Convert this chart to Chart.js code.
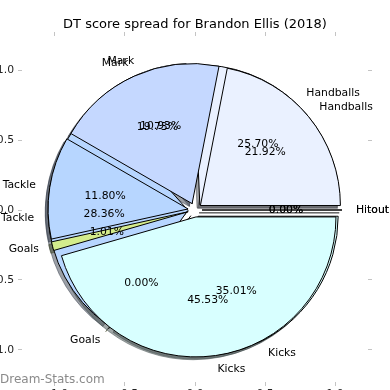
<!DOCTYPE html>
<html><head><meta charset="utf-8">
<script src="https://cdn.jsdelivr.net/npm/chart.js@4/dist/chart.umd.min.js"></script>
<style>
html,body{margin:0;padding:0;background:#fff;overflow:hidden;width:390px;height:390px;}
#wrap{position:absolute;left:-20px;top:0;width:430px;height:410px;}
</style></head><body>
<div id="wrap"><canvas id="c"></canvas></div>
<script>
const chartTitle = 'DT score spread for Brandon Ellis (2018)';
const watermark = 'Dream-Stats.com';
// categories in drawing order (clockwise from the right-hand side)
const categories = ['Hitout', 'Kicks', 'Goals', 'Tackle', 'Mark', 'Handballs'];
const spreadA = [0.00, 45.53, 1.01, 11.80, 19.73, 21.92];
const spreadB = [0.00, 35.01, 0.00, 28.36, 10.93, 25.70];
const axisTicks = [-1.0, -0.5, 0.0, 0.5, 1.0];
const sliceColours = ['#f2f2f2', '#d8ffff', '#d4ec8c', '#b7d6ff', '#c5d8ff', '#eaf1ff'];

const EXPLODE = 0.05, LABEL_DIST = 1.1, PCT_DIST = 0.6, SHADOW = 0.02;
const X_LIM = 1.2357, Y_TOP = 1.2429, Y_BOT = -1.2286;
const LABEL_FONT = '10.8px "DejaVu Sans"';

function geom(chart) {
  const xs = chart.scales.x, ys = chart.scales.y;
  const cx = xs.getPixelForValue(0), cy = ys.getPixelForValue(0);
  return {cx, cy, R: xs.getPixelForValue(1) - cx};
}
function shade(hex) {
  const n = parseInt(hex.slice(1), 16);
  const r = (n >> 16) & 255, g = (n >> 8) & 255, b = n & 255;
  return `rgba(${Math.round(r * .3)},${Math.round(g * .3)},${Math.round(b * .3)},0.5)`;
}

const piePlugin = {
  id: 'mplpie',
  afterDatasetsUpdate(chart) {
    const {cx, cy, R} = geom(chart);
    chart.data.datasets.forEach((ds, i) => {
      chart.getDatasetMeta(i).data.forEach(arc => {
        const mid = (arc.startAngle + arc.endAngle) / 2;
        arc.x = cx + EXPLODE * R * Math.cos(mid);
        arc.y = cy + EXPLODE * R * Math.sin(mid);
        arc.innerRadius = 0;
        arc.outerRadius = R;
      });
    });
  },
  beforeDatasetsDraw(chart) {
    const ctx = chart.ctx;
    const {R} = geom(chart);
    const ox = -SHADOW * R, oy = SHADOW * R;
    ctx.save();
    for (let i = chart.data.datasets.length - 1; i >= 0; i--) {
      chart.getDatasetMeta(i).data.forEach((arc, j) => {
        const col = shade(sliceColours[j]);
        ctx.beginPath();
        ctx.moveTo(arc.x + ox, arc.y + oy);
        ctx.arc(arc.x + ox, arc.y + oy, arc.outerRadius, arc.startAngle, arc.endAngle);
        ctx.closePath();
        ctx.fillStyle = col; ctx.strokeStyle = col; ctx.lineWidth = 1;
        ctx.fill(); ctx.stroke();
      });
    }
    ctx.restore();
  },
  afterDatasetDraw(chart, args) {
    const ctx = chart.ctx;
    args.meta.data.forEach(arc => {
      if (arc.endAngle - arc.startAngle === 0) {
        ctx.save();
        ctx.strokeStyle = '#000'; ctx.lineWidth = 1;
        ctx.beginPath();
        ctx.moveTo(arc.x, arc.y);
        ctx.lineTo(arc.x + arc.outerRadius * Math.cos(arc.startAngle), arc.y + arc.outerRadius * Math.sin(arc.startAngle));
        ctx.stroke();
        ctx.restore();
      }
    });
  },
  afterDatasetsDraw(chart) {
    const ctx = chart.ctx;
    const {cx} = geom(chart);
    ctx.save();
    ctx.font = LABEL_FONT;
    ctx.fillStyle = '#000';
    ctx.textBaseline = 'middle';
    for (let i = chart.data.datasets.length - 1; i >= 0; i--) {
      const ds = chart.data.datasets[i];
      const total = ds.data.reduce((a, b) => a + b, 0);
      chart.getDatasetMeta(i).data.forEach((arc, j) => {
        const mid = (arc.startAngle + arc.endAngle) / 2;
        const c = Math.cos(mid), s = Math.sin(mid);
        const lx = arc.x + LABEL_DIST * arc.outerRadius * c;
        const ly = arc.y + LABEL_DIST * arc.outerRadius * s;
        ctx.textAlign = (lx - cx) > 0 ? 'left' : 'right';
        ctx.fillText(chart.data.labels[j], lx, ly);
        ctx.textAlign = 'center';
        ctx.fillText((ds.data[j] / total * 100).toFixed(2) + '%',
          arc.x + PCT_DIST * arc.outerRadius * c, arc.y + PCT_DIST * arc.outerRadius * s);
      });
    }
    ctx.restore();
  },
  afterDraw(chart) {
    const ctx = chart.ctx;
    ctx.save();
    ctx.font = '12px "DejaVu Sans"';
    ctx.fillStyle = '#8a8a8a';
    ctx.textAlign = 'left';
    ctx.textBaseline = 'middle';
    ctx.fillText(watermark, 20, 380);
    ctx.restore();
  }
};

const fmt = v => (v < 0 ? '\u2212' : '') + Math.abs(v).toFixed(1);
function axis(position, min, max, showLabels, size) {
  const horizontal = position === 'top' || position === 'bottom';
  return {
    type: 'linear', position, min, max,
    afterBuildTicks: s => { s.ticks = axisTicks.map(v => ({value: v})); },
    afterFit: s => { if (horizontal) s.height = size; else s.width = size; },
    grid: {drawOnChartArea: false, drawTicks: true, tickLength: 4, tickColor: '#c4c4c4', lineWidth: 1},
    border: {display: false},
    ticks: {display: showLabels, padding: horizontal ? 2 : 4, color: '#222',
      font: {family: 'DejaVu Sans', size: 10.8}, callback: v => fmt(v), maxRotation: 0, autoSkip: false}
  };
}

Chart.defaults.font.family = 'DejaVu Sans';
const mk = (data) => ({
  data, backgroundColor: sliceColours, borderColor: '#000', borderWidth: 1,
  borderJoinStyle: 'miter', borderAlign: 'center', rotation: 90, offset: 0, spacing: 0, hoverOffset: 0
});

new Chart(document.getElementById('c'), {
  type: 'pie',
  data: {labels: categories, datasets: [mk(spreadA), mk(spreadB)]},
  options: {
    responsive: true, maintainAspectRatio: false, animation: false, events: [],
    rotation: 90,
    layout: {padding: 0},
    plugins: {
      legend: {display: false}, tooltip: {enabled: false},
      title: {display: true, text: chartTitle, color: '#000',
        font: {family: 'DejaVu Sans', size: 13, weight: 'normal', lineHeight: 1.2},
        padding: {top: 17.2, bottom: 0}}
    },
    scales: {
      x: axis('bottom', -X_LIM, X_LIM, true, 28),
      x2: axis('top', -X_LIM, X_LIM, false, 3.2),
      y: axis('left', Y_BOT, Y_TOP, true, 42),
      y2: axis('right', Y_BOT, Y_TOP, false, 42)
    }
  },
  plugins: [piePlugin]
});
</script>
</body></html>
